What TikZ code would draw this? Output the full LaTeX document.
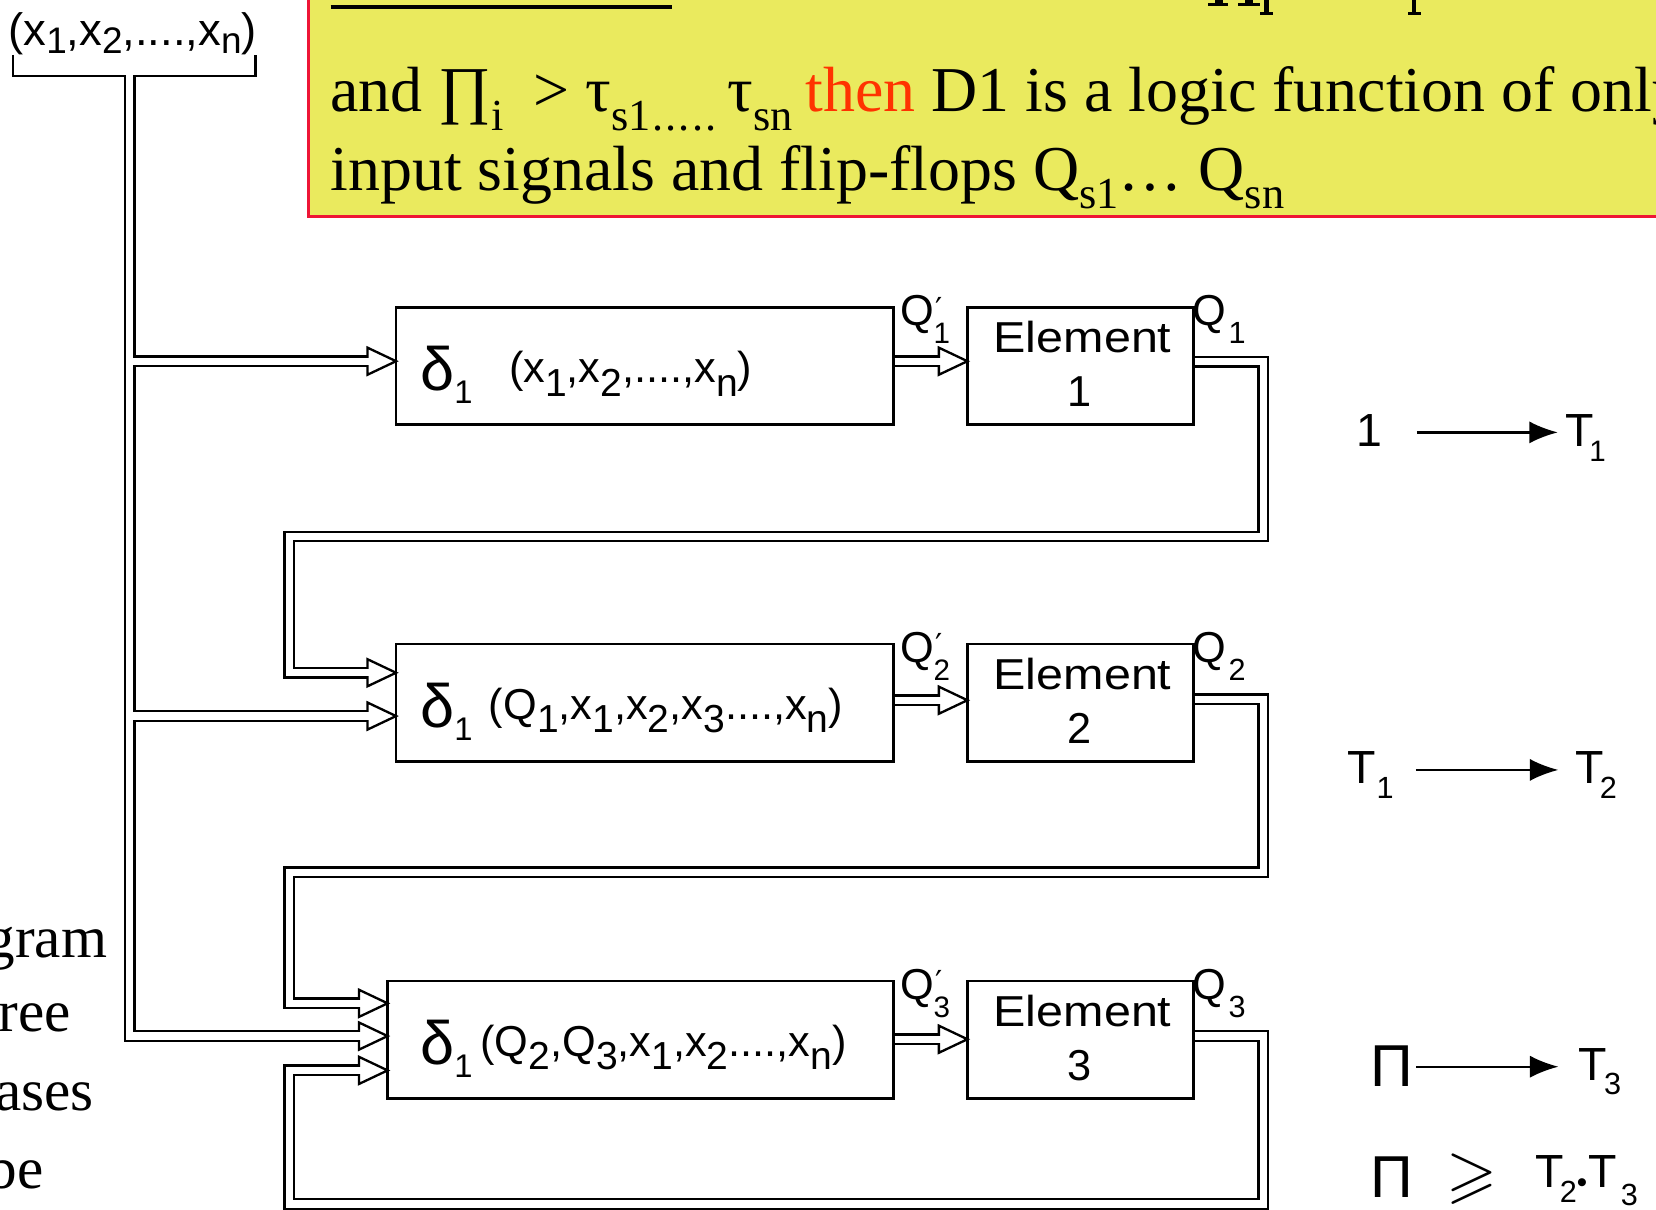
\documentclass[tikz,border=0pt]{standalone}
\usepackage{fontspec}
\usepackage{amssymb}
\setmainfont{Liberation Serif}
\setsansfont{Liberation Sans}
\newfontfamily\dejavu{DejaVu Sans}
\usetikzlibrary{arrows.meta,calc}

\definecolor{notefill}{RGB}{234,234,94}
\definecolor{noterim}{RGB}{238,22,54}
\definecolor{hot}{RGB}{255,51,0}

% font size in bp, and a lowered/resized piece of text
\newcommand\fsz[1]{\fontsize{#1bp}{#1bp}\selectfont}
\newcommand\lowr[3]{\raisebox{-#1bp}{\fsz{#2}#3}}
% Q with a lowered index and a prime above it
\newcommand\qprime[1]{Q\rlap{\kern-1bp\lowr{17}{28}{#1}}\raisebox{5bp}{\kern1bp\dejavu\fsz{30}′}}

\tikzset{
  txt/.style={inner sep=0pt, outer sep=0pt, anchor=base west},
  sans/.style={txt, font=\sffamily\fsz{41}},
  serif/.style={txt, font=\rmfamily\fsz{60.5}},
  blk/.style={draw, line width=2.2bp, inner sep=0pt, outer sep=0pt,
              anchor=north west, minimum height=111bp},
  rule/.style={line width=2.2bp, line join=miter},
  tiphead/.style={draw, fill=white, line width=2.2bp, line join=miter},
  arr/.style={line width=2.2bp, -{Latex[length=27bp,width=21bp]}},
}

% all double-line connectors; the end styles differ between the two passes
\newcommand\wirepaths{%
  \draw[wtop,wend] (tk) |- (b3b);
  \draw[wend] (tk |- b1) -- (b1);
  \draw[wend] (tk |- b2b) -- (b2b);
  \draw[wstart,wend] (o1) -| (rl1) -- (ll1) |- (b2a);
  \draw[wstart,wend] (o2) -| (rl2) -- (ll2) |- (b3a);
  \draw[wstart,wend] (o3) -| (rl3) -- (ll3) |- (b3c);
  \draw[wstart,wend] (s1) -- (cb1);
  \draw[wstart,wend] (s2) -- (cb2);
  \draw[wstart,wend] (s3) -- (cb3);
}

\begin{document}
\begin{tikzpicture}[x=1bp, y=-1bp]
\useasboundingbox (0,0) rectangle (1568,1145);
\begin{scope}
\clip (0,0) rectangle (1568,1145);
\fill[white] (0,0) rectangle (1568,1145);

% ---------- note panel ----------
\draw[noterim, fill=notefill, line width=2.5bp] (292,-20) rectangle (1600,205);
\draw[line width=3.8bp] (313,7) -- (636,7);
% feet of the letters of the line above
\fill (1150.5,0) rectangle (1158,3.2);  \fill (1144,2.8) rectangle (1163,5.7);
\fill (1179,0) rectangle (1186.5,3.2);  \fill (1172,2.8) rectangle (1193,5.7);
\fill (1196.5,0) rectangle (1201.5,12); \fill (1193,11.5) rectangle (1205,14.2);
\fill (1336.5,0) rectangle (1340.8,12); \fill (1333,11.5) rectangle (1345,14.2);

\node[serif] (n1a) at (313,106) {and ∏\lowr{18}{42}{i}};
\node[serif] (n1b) at (505,106) {> τ\lowr{18}{42}{s1\kern2bp.\kern2bp.\kern2bp.\kern2bp.\kern2bp.}};
\node[serif] (n1c) at (689,106) {τ\lowr{18}{42}{sn}};
\node[serif] (n1d) at (763,106) {\textcolor{hot}{then} D1 is a logic function of only};
\node[serif] (n2) at (313,180) {input signals and flip-flops Q\lowr{17}{42}{s1}… Q\lowr{17}{42}{sn}};

% ---------- text cut at the left edge ----------
\node[serif, anchor=base east, font=\rmfamily\fsz{56}] (w1) at (101.5,907) {gram};
\node[serif, anchor=base east, font=\rmfamily\fsz{56}] (w2) at (67,977) {ree};
\node[serif, anchor=base east, font=\rmfamily\fsz{56}] (w3) at (89,1051) {ases};
\node[serif, anchor=base east, font=\rmfamily\fsz{56}] (w4) at (41,1125) {be};

% ---------- input bus ----------
\node[sans, font=\sffamily\fsz{43}] (xin) at (8,43)
  {(x\lowr{8}{35}{1},x\lowr{8}{35}{2},....,x\lowr{8}{35}{n})};
\draw[rule] (12,52) -- (12,72) -- (242,72) -- (242,52);
\coordinate (tk) at (123,72);

% ---------- blocks ----------
\node[blk, minimum width=471bp] (f1) at (375,291) {};
\node[blk, minimum width=471bp] (f2) at (375,610) {};
\node[blk, minimum width=479bp] (f3) at (367,929) {};
\node[blk, minimum width=214bp] (e1) at (916,291) {};
\node[blk, minimum width=214bp] (e2) at (916,610) {};
\node[blk, minimum width=214bp] (e3) at (916,929) {};

\node[txt, font=\sffamily\fsz{58}] (d1) at (398,370) {δ\lowr{12}{31}{1}};
\node[txt, font=\sffamily\fsz{58}] (d2) at (398,689) {δ\lowr{12}{31}{1}};
\node[txt, font=\sffamily\fsz{58}] (d3) at (398,1008) {δ\lowr{12}{31}{1}};

\node[sans] (g1) at (482,362)
  {(x\lowr{13}{37}{1},x\lowr{13}{37}{2},....,x\lowr{13}{37}{n})};
\node[sans] (g2) at (463,681)
  {(Q\lowr{13}{37}{1},x\lowr{13}{37}{1},x\lowr{13}{37}{2},x\lowr{13}{37}{3}....,x\lowr{13}{37}{n})};
\node[sans] (g3) at (455,1000)
  {(Q\lowr{13}{37}{2},Q\lowr{13}{37}{3},x\lowr{13}{37}{1},x\lowr{13}{37}{2}....,x\lowr{13}{37}{n})};

\node[sans, anchor=base] (e1a) at (1025,334) {\scalebox{1.12}[1]{Element}};
\node[sans, anchor=base] (e1b) at (1022,385) {1};
\node[sans, anchor=base] (e2a) at (1025,653) {\scalebox{1.12}[1]{Element}};
\node[sans, anchor=base] (e2b) at (1022,704) {2};
\node[sans, anchor=base] (e3a) at (1025,972) {\scalebox{1.12}[1]{Element}};
\node[sans, anchor=base] (e3b) at (1022,1023) {3};

\node[sans, font=\sffamily\fsz{41}] (q1p) at (853,308) {\qprime{1}};
\node[sans, font=\sffamily\fsz{41}] (q2p) at (853,627) {\qprime{2}};
\node[sans, font=\sffamily\fsz{41}] (q3p) at (853,946) {\qprime{3}};
\node[sans, font=\sffamily\fsz{41}] (q1) at (1129.5,308) {Q\kern2bp\lowr{17}{29}{1}};
\node[sans, font=\sffamily\fsz{41}] (q2) at (1129.5,627) {Q\kern2bp\lowr{17}{29}{2}};
\node[sans, font=\sffamily\fsz{41}] (q3) at (1129.5,946) {Q\kern2bp\lowr{17}{29}{3}};

% ---------- arrow tips and their shafts ----------
\coordinate (t1)  at ($(f1.north west)+(0,51)$);
\coordinate (t2a) at ($(f2.north west)+(0,27)$);
\coordinate (t2b) at ($(f2.north west)+(0,68)$);
\coordinate (t3a) at ($(f3.north west)+(0,21)$);
\coordinate (t3b) at ($(f3.north west)+(0,52)$);
\coordinate (t3c) at ($(f3.north west)+(0,84.5)$);
\coordinate (c1)  at ($(e1.north west)+(0,51)$);
\coordinate (c2)  at ($(e2.north west)+(0,53)$);
\coordinate (c3)  at ($(e3.north west)+(0,55)$);
\coordinate (b1)  at ($(t1)+(-27,0)$);
\coordinate (b2a) at ($(t2a)+(-27,0)$);
\coordinate (b2b) at ($(t2b)+(-27,0)$);
\coordinate (b3a) at ($(t3a)+(-27,0)$);
\coordinate (b3b) at ($(t3b)+(-27,0)$);
\coordinate (b3c) at ($(t3c)+(-27,0)$);
\coordinate (cb1) at ($(c1)+(-27,0)$);
\coordinate (cb2) at ($(c2)+(-27,0)$);
\coordinate (cb3) at ($(c3)+(-27,0)$);
\coordinate (s1) at (f1.east |- c1);
\coordinate (s2) at (f2.east |- c2);
\coordinate (s3) at (f3.east |- c3);
\coordinate (o1) at ($(e1.north east)+(0,51.5)$);
\coordinate (o2) at ($(e2.north east)+(0,52)$);
\coordinate (o3) at ($(e3.north east)+(0,52)$);
% feedback lanes
\coordinate (rl1) at (1196,508);  \coordinate (ll1) at (274,508);
\coordinate (rl2) at (1196,826);  \coordinate (ll2) at (274,826);
\coordinate (rl3) at (1196,1140); \coordinate (ll3) at (274,1140);

% outer pass of the double lines
\begin{scope}[line width=11.2bp, line join=miter,
  wstart/.style={}, wend/.style={}, wtop/.style={}]
  \wirepaths
\end{scope}
% hollow heads
\foreach \t in {t1,t2a,t2b,t3a,t3b,t3c,c1,c2,c3}
  \draw[tiphead] (\t) -- ++(-27,12.8) -- ++(0,-25.6) -- cycle;
% inner pass of the double lines
\begin{scope}[white, line width=6.8bp, line join=miter,
  wstart/.style={shorten <=1.1bp}, wend/.style={shorten >=-2bp},
  wtop/.style={shorten <=-1.5bp}]
  \wirepaths
\end{scope}

% ---------- timing relations ----------
\node[sans, font=\sffamily\fsz{44}] (r1a) at (1284,423) {1};
\node[sans, font=\sffamily\fsz{44}] (r1b) at (1482,423) {T\kern-4bp\lowr{14}{28}{1}};
\draw[arr] ([shift={(33,-13.6)}]r1a.base east) -- ([shift={(-7,-13.6)}]r1b.base west);

\node[sans, font=\sffamily\fsz{44}] (r2a) at (1275.5,741.7) {T\kern1bp\lowr{14}{29}{1}};
\node[sans, font=\sffamily\fsz{44}] (r2b) at (1492,741.7) {T\kern-4bp\lowr{14}{29}{2}};
\draw[arr] ([shift={(21,-12.7)}]r2a.base east) -- ([shift={(-16.5,-12.7)}]r2b.base west);

\node[sans, font=\sffamily\fsz{56}] (r3a) at (1298,1029) {Π};
\node[sans, font=\sffamily\fsz{44}] (r3b) at (1495,1022.6) {T\kern-3bp\lowr{14}{29}{3}};
\draw[arr] ([shift={(2.6,-19)}]r3a.base east) -- ([shift={(-19.4,-12.6)}]r3b.base west);

\node[sans, font=\sffamily\fsz{56}] (r4a) at (1298,1134) {Π};
\node[txt] (r4b) at (1370,1132) {\fsz{62}$\geqslant$};
\node[sans, font=\sffamily\fsz{44}] (r4c) at (1454,1124)
  {T\kern-4bp\lowr{15}{29}{2}\lowr{5}{28}{•}\kern1bp T\kern4bp\lowr{17}{29}{3}};
\end{scope}
\end{tikzpicture}
\end{document}
